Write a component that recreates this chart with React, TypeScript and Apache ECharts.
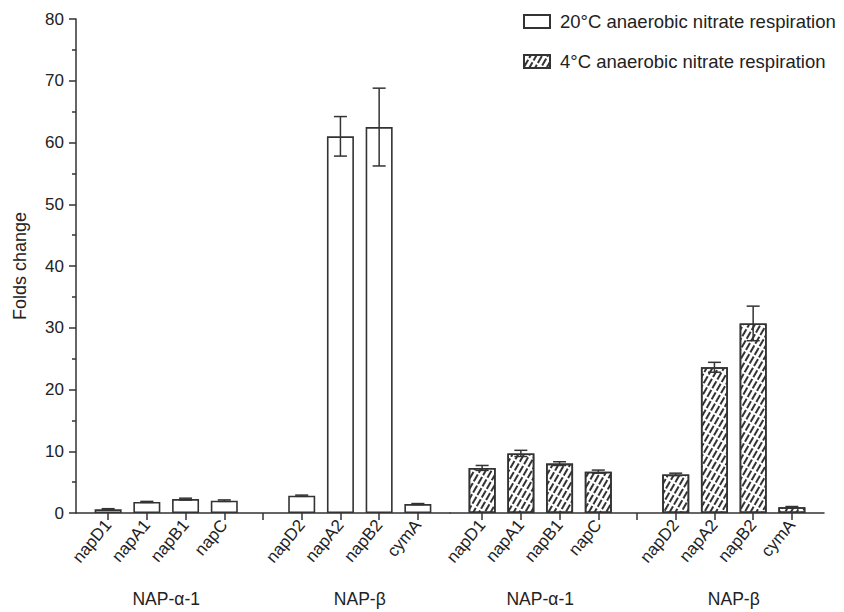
import React, { useEffect, useRef } from "react";
import * as echarts from "echarts";

// ---- data ----
const alphaGenes = ["napD1", "napA1", "napB1", "napC"];
const betaGenes = ["napD2", "napA2", "napB2", "cymA"];
const slots = [...alphaGenes, "", ...betaGenes];
const groupNames = ["NAP-α-1", "NAP-β"];

const warmName = "20\u00B0C anaerobic nitrate respiration";
const coldName = "4\u00B0C anaerobic nitrate respiration";

const warmValues = [0.6, 1.8, 2.25, 2.0, null, 2.8, 61.0, 62.5, 1.45];
const warmErrors = [0.1, 0.08, 0.15, 0.12, null, 0.1, 3.2, 6.3, 0.08];
const coldValues = [7.3, 9.65, 8.0, 6.7, null, 6.25, 23.6, 30.7, 0.95];
const coldErrors = [0.4, 0.5, 0.3, 0.25, null, 0.2, 0.8, 2.8, 0.1];

const yTicks = [0, 10, 20, 30, 40, 50, 60, 70, 80];

const FONT = "'Liberation Sans', Arial, sans-serif";
const INK = "#333";
const TXT = "#222";

const groupCenters = [
  (slots.indexOf(alphaGenes[0]) + slots.indexOf(alphaGenes[alphaGenes.length - 1])) / 2,
  (slots.indexOf(betaGenes[0]) + slots.indexOf(betaGenes[betaGenes.length - 1])) / 2,
];

const pad = 0.83;

function barData(vals: (number | null)[]) {
  const out: number[][] = [];
  vals.forEach((v, i) => {
    if (v != null) out.push([i, v]);
  });
  return out;
}
function errData(vals: (number | null)[], errs: (number | null)[]) {
  const out: number[][] = [];
  vals.forEach((v, i) => {
    if (v != null && errs[i] != null) out.push([i, v, errs[i] as number]);
  });
  return out;
}

const errRender = (params: any, api: any) => {
  const x = api.value(0);
  const y = api.value(1);
  const e = api.value(2);
  const hi = api.coord([x, y + e]);
  const lo = api.coord([x, y - e]);
  const cap = 6.5;
  const style = { stroke: INK, lineWidth: 1.5 };
  return {
    type: "group",
    children: [
      { type: "line", shape: { x1: hi[0], y1: hi[1], x2: lo[0], y2: lo[1] }, style },
      { type: "line", shape: { x1: hi[0] - cap, y1: hi[1], x2: hi[0] + cap, y2: hi[1] }, style },
      { type: "line", shape: { x1: lo[0] - cap, y1: lo[1], x2: lo[0] + cap, y2: lo[1] }, style },
    ],
  };
};

function geneAxis(gridIndex: number) {
  return {
    type: "value",
    gridIndex,
    min: -pad,
    max: slots.length - 1 + pad,
    splitLine: { show: false },
    axisLine: { show: true, onZero: false, lineStyle: { color: INK, width: 1.5 } },
    axisTick: {
      show: true,
      length: 7,
      lineStyle: { color: INK, width: 1.5 },
      customValues: slots.map((_, i) => i),
    },
    axisLabel: {
      show: true,
      rotate: 50,
      margin: 9,
      fontSize: 17,
      fontFamily: FONT,
      color: TXT,
      customValues: slots.map((s, i) => (s ? i : -1)).filter((i) => i >= 0),
      formatter: (v: number) => slots[Math.round(v)] || "",
    },
  };
}

function groupAxis(gridIndex: number) {
  return {
    type: "value",
    gridIndex,
    position: "bottom",
    offset: 70,
    min: -pad,
    max: slots.length - 1 + pad,
    splitLine: { show: false },
    axisLine: { show: false },
    axisTick: { show: false },
    axisLabel: {
      show: true,
      margin: 7,
      fontSize: 17.5,
      fontFamily: FONT,
      color: TXT,
      customValues: groupCenters,
      formatter: (v: number) => {
        const k = groupCenters.findIndex((c) => Math.abs(c - v) < 0.01);
        return k >= 0 ? groupNames[k] : "";
      },
    },
  };
}

export default function App() {
  const ref = useRef<HTMLDivElement>(null);
  useEffect(() => {
    document.body.style.margin = "0";
    if (!ref.current) return;
    const chart = echarts.init(ref.current, null, { renderer: "svg" });
    const option: any = {
      animation: false,
      backgroundColor: "#fff",
      textStyle: { fontFamily: FONT },
      legend: {
        data: [warmName, coldName],
        orient: "vertical",
        left: 518,
        top: 7,
        icon: "rect",
        itemWidth: 26,
        itemHeight: 13,
        itemGap: 21,
        textStyle: { fontSize: 18.5, fontFamily: FONT, color: TXT, padding: [0, 0, 0, 5] },
      },
      grid: [
        { left: 76, top: 19, width: 374, height: 494 },
        { left: 450, top: 19, width: 374, height: 494 },
      ],
      xAxis: [geneAxis(0), geneAxis(1), groupAxis(0), groupAxis(1)],
      yAxis: [
        {
          type: "value",
          gridIndex: 0,
          min: yTicks[0],
          max: yTicks[yTicks.length - 1],
          interval: yTicks[1] - yTicks[0],
          name: "Folds change",
          nameLocation: "middle",
          nameGap: 47,
          nameTextStyle: { fontSize: 18, fontFamily: FONT, color: TXT },
          splitLine: { show: false },
          axisLine: { show: true, onZero: false, lineStyle: { color: INK, width: 1.5 } },
          axisTick: { show: true, length: 7, lineStyle: { color: INK, width: 1.5 } },
          minorTick: { show: true, splitNumber: 2, length: 4, lineStyle: { color: INK, width: 1.5 } },
          axisLabel: { fontSize: 17, fontFamily: FONT, color: TXT, margin: 12 },
        },
        {
          type: "value",
          gridIndex: 1,
          min: yTicks[0],
          max: yTicks[yTicks.length - 1],
          interval: yTicks[1] - yTicks[0],
          show: false,
        },
      ],
      series: [
        {
          name: warmName,
          type: "bar",
          xAxisIndex: 0,
          yAxisIndex: 0,
          barWidth: 27,
          data: barData(warmValues),
          itemStyle: { color: "#fff", borderColor: INK, borderWidth: 1.6 },
        },
        {
          name: coldName,
          type: "bar",
          xAxisIndex: 1,
          yAxisIndex: 1,
          barWidth: 27,
          data: barData(coldValues),
          itemStyle: {
            color: "#fff",
            borderColor: INK,
            borderWidth: 1.6,
            decal: {
              symbol: "rect",
              symbolSize: 1,
              color: "#333",
              dashArrayX: [8, 1.5],
              dashArrayY: [2, 2.2],
              rotation: -Math.PI / 3,
            },
          },
        },
        {
          name: "err20",
          type: "custom",
          xAxisIndex: 0,
          yAxisIndex: 0,
          z: 5,
          renderItem: errRender,
          data: errData(warmValues, warmErrors),
        },
        {
          name: "err4",
          type: "custom",
          xAxisIndex: 1,
          yAxisIndex: 1,
          z: 5,
          renderItem: errRender,
          data: errData(coldValues, coldErrors),
        },
      ],
    };
    chart.setOption(option);
    return () => chart.dispose();
  }, []);
  return <div ref={ref} style={{ width: 844, height: 612 }} />;
}
